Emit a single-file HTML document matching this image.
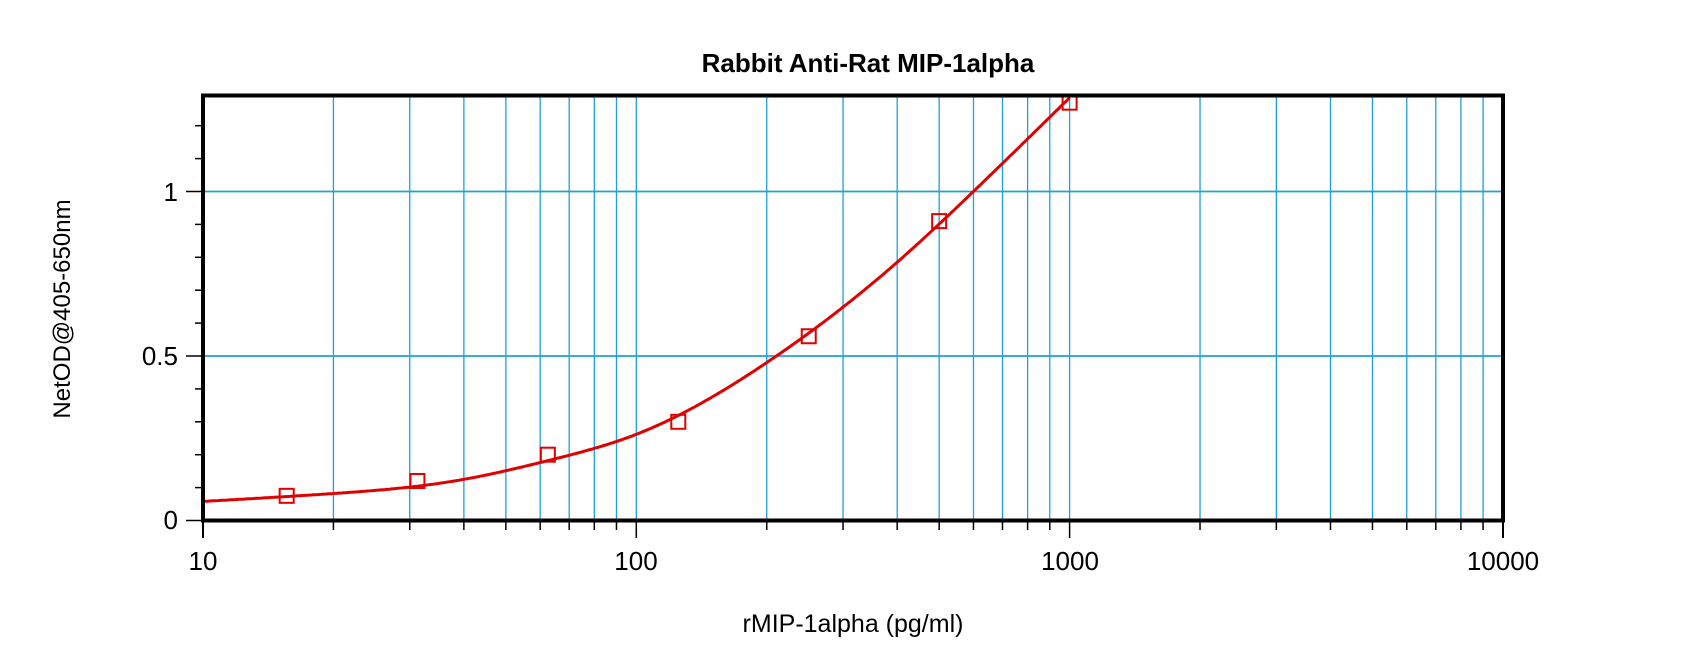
<!DOCTYPE html>
<html><head><meta charset="utf-8"><style>
html,body{margin:0;padding:0;background:#fff;}
svg{display:block;font-family:"Liberation Sans",Arial,sans-serif;}
</style></head><body>
<svg id="s" width="1700" height="664" viewBox="0 0 1700 664" xmlns="http://www.w3.org/2000/svg">
<rect width="1700" height="664" fill="#fff"/>
<g id="grid"></g>
<path id="curve" fill="none" stroke="#e00000" stroke-width="3"/>
<g id="pts"></g>
<rect x="203" y="95.5" width="1300" height="425" fill="none" stroke="#000" stroke-width="4"/>
<g id="ticks"></g>
<text x="868" y="72" font-size="26" font-weight="bold" text-anchor="middle">Rabbit Anti-Rat MIP-1alpha</text>
<text x="853" y="632" font-size="25" text-anchor="middle">rMIP-1alpha (pg/ml)</text>
<text transform="translate(70,309) rotate(-90)" font-size="24" text-anchor="middle">NetOD@405-650nm</text>
<text x="178" y="529" font-size="26" text-anchor="end">0</text>
<text x="178" y="365" font-size="26" text-anchor="end">0.5</text>
<text x="178" y="201" font-size="26" text-anchor="end">1</text>
<text x="203" y="570" font-size="26" text-anchor="middle">10</text>
<text x="636" y="570" font-size="26" text-anchor="middle">100</text>
<text x="1070" y="570" font-size="26" text-anchor="middle">1000</text>
<text x="1503" y="570" font-size="26" text-anchor="middle">10000</text>
</svg>
<script>
var NS="http://www.w3.org/2000/svg";
function X(v){return 203+(Math.log10(v)-1)*433.3;}
function Y(v){return 520.5-v*329;}
function el(p,t,a){var e=document.createElementNS(NS,t);for(var k in a)e.setAttribute(k,a[k]);document.getElementById(p).appendChild(e);return e;}
for(var d=10;d<10000;d*=10)for(var m=1;m<10;m++){var v=d*m;if(v==10)continue;var x=X(v);
el("grid","line",{x1:x,x2:x,y1:95,y2:521,stroke:"#1ea0e0","stroke-width":1.3});
el("ticks","line",{x1:x,x2:x,y1:521,y2:(m==1?538:530),stroke:"#000","stroke-width":1.5});}
el("ticks","line",{x1:203,x2:203,y1:521,y2:538,stroke:"#000","stroke-width":2});
el("ticks","line",{x1:1503,x2:1503,y1:521,y2:538,stroke:"#000","stroke-width":2});
[0.5,1].forEach(function(v){el("grid","line",{x1:203,x2:1503,y1:Y(v),y2:Y(v),stroke:"#1ea0e0","stroke-width":1.8});});
for(var i=0;i<=12;i++){var v=i/10;var maj=(i%5==0);el("ticks","line",{x1:maj?186:195,x2:203,y1:Y(v),y2:Y(v),stroke:"#000","stroke-width":1.5});}
// natural cubic spline in log10(x)
var xs=[1,1.301,1.602,1.796,2,2.301,2.602,2.778,3];
var ys=[0.058,0.082,0.125,0.182,0.262,0.48,0.785,1.0,1.285];
var n=xs.length,h=[],al=[],l=[1],mu=[0],z=[0],c=new Array(n).fill(0),b=[],dd=[];
for(var i=0;i<n-1;i++)h[i]=xs[i+1]-xs[i];
for(var i=1;i<n-1;i++)al[i]=3/h[i]*(ys[i+1]-ys[i])-3/h[i-1]*(ys[i]-ys[i-1]);
for(var i=1;i<n-1;i++){l[i]=2*(xs[i+1]-xs[i-1])-h[i-1]*mu[i-1];mu[i]=h[i]/l[i];z[i]=(al[i]-h[i-1]*z[i-1])/l[i];}
l[n-1]=1;z[n-1]=0;
for(var j=n-2;j>=0;j--){c[j]=z[j]-mu[j]*c[j+1];b[j]=(ys[j+1]-ys[j])/h[j]-h[j]*(c[j+1]+2*c[j])/3;dd[j]=(c[j+1]-c[j])/(3*h[j]);}
function S(t){var i=0;while(i<n-2&&t>xs[i+1])i++;var u=t-xs[i];return ys[i]+b[i]*u+c[i]*u*u+dd[i]*u*u*u;}
var p="";
for(var lx=1;lx<=3.0001;lx+=0.005){p+=(p?"L":"M")+X(Math.pow(10,lx)).toFixed(1)+","+Y(S(lx)).toFixed(1);}
document.getElementById("curve").setAttribute("d",p);
[[15.6,0.075],[31.25,0.12],[62.5,0.2],[125,0.3],[250,0.56],[500,0.91],[1000,1.27]].forEach(function(q){
el("pts","rect",{x:X(q[0])-7,y:Y(q[1])-7,width:14,height:14,fill:"none",stroke:"#e00000","stroke-width":2});});
</script>
</body></html>
